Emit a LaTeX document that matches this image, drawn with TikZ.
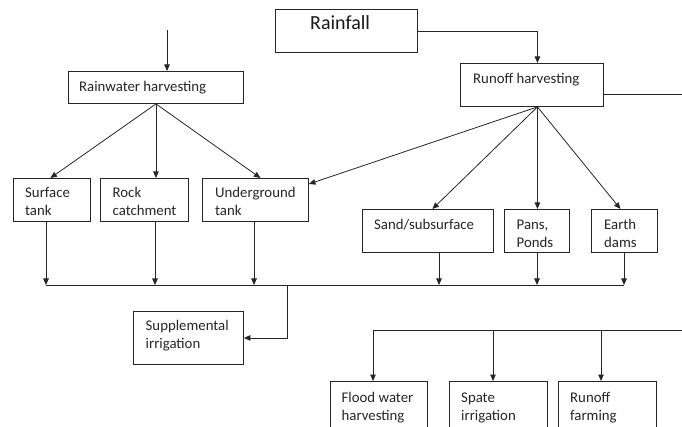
\documentclass[tikz,border=0pt]{standalone}
\usepackage{fontspec}
\setmainfont{Carlito}
\usetikzlibrary{arrows.meta,calc}
\begin{document}
\begin{tikzpicture}[x=1pt,y=-1pt,
  box/.style={draw=black!85, line width=0.9pt, rectangle, inner sep=0pt, anchor=north west},
  lbl/.style={anchor=base west, inner sep=0pt, font=\fontsize{14.8}{18}\selectfont, text=black!85},
  big/.style={anchor=base west, inner sep=0pt, font=\fontsize{20}{24}\selectfont, text=black!90},
  arr/.style={draw=black!85, line width=0.8pt, -{Triangle[width=5.5pt,length=6.5pt]}},
  ln/.style={draw=black!85, line width=0.8pt}]
\useasboundingbox (0,0) rectangle (682,427);
\clip (0,0) rectangle (682,427);
% boxes
\node[box, minimum width=142pt, minimum height=43pt] (rf) at (275,9) {};
\node[box, minimum width=143pt, minimum height=43pt] (ro) at (460,63) {};
\node[box, minimum width=175pt, minimum height=32pt] (rw) at (68,71) {};
\node[box, minimum width=77pt, minimum height=43pt] (st) at (13,178) {};
\node[box, minimum width=88pt, minimum height=43pt] (rc) at (100,178) {};
\node[box, minimum width=106pt, minimum height=43pt] (ug) at (202,178) {};
\node[box, minimum width=131pt, minimum height=43pt] (sd) at (362,209) {};
\node[box, minimum width=65pt, minimum height=43pt] (pp) at (504,209) {};
\node[box, minimum width=66pt, minimum height=43pt] (ed) at (591,209) {};
\node[box, minimum width=110pt, minimum height=53pt] (si) at (133,311) {};
\node[box, minimum width=97pt, minimum height=60pt] (fw) at (330,381) {};
\node[box, minimum width=98pt, minimum height=60pt] (sp) at (449,381) {};
\node[box, minimum width=98pt, minimum height=60pt] (rfm) at (558,381) {};
% texts
\node[big] (t1) at (310,29.5) {Rainfall};
\node[lbl] (t2) at (473,84) {Runoff harvesting};
\node[lbl] (t3) at (79,91.5) {Rainwater harvesting};
\node[lbl] (t4a) at (25,197.5) {Surface};
\node[lbl] (t4b) at (25,215.5) {tank};
\node[lbl] (t5a) at (112.5,197.5) {Rock};
\node[lbl] (t5b) at (112.5,215.5) {catchment};
\node[lbl] (t6a) at (215,197.5) {Underground};
\node[lbl] (t6b) at (215,215.5) {tank};
\node[lbl] (t7) at (374,229.3) {Sand/subsurface};
\node[lbl] (t8a) at (516.5,229.5) {Pans,};
\node[lbl] (t8b) at (516.5,248) {Ponds};
\node[lbl] (t9a) at (604,229.5) {Earth};
\node[lbl] (t9b) at (604,248) {dams};
\node[lbl] (t10a) at (145.5,330.5) {Supplemental};
\node[lbl] (t10b) at (145.5,348.5) {irrigation};
\node[lbl] (t11a) at (341.5,402) {Flood water};
\node[lbl] (t11b) at (341.5,420) {harvesting};
\node[lbl] (t12a) at (461,402) {Spate};
\node[lbl] (t12b) at (461,420) {irrigation};
\node[lbl] (t13a) at (570,402) {Runoff};
\node[lbl] (t13b) at (570,420) {farming};
% coordinates
\coordinate (in) at (167,30);
\coordinate (out1) at (682,94);
\coordinate (roA) at ($(ro.south)+(5.5,0)$);
\coordinate (b1) at (46,285);
\coordinate (b2) at (155,285);
\coordinate (b3) at (254,285);
\coordinate (b4) at (439,285);
\coordinate (b5) at (537,285);
\coordinate (b6) at (624,285);
\coordinate (bj) at (287,285);
\coordinate (out2) at (682,330);
\coordinate (d1) at (373,330);
\coordinate (d2) at (493,330);
\coordinate (d3) at (601,330);
% connectors
\draw[arr] (in) -- (in |- rw.north);
\draw[arr] (rf.east) -| ($(ro.north)+(5.5,0)$);
\draw[ln] (ro.east |- out1) -- (out1);
\draw[arr] (rw.south) -- ($(st.north)+(-1.5,0)$);
\draw[arr] (rw.south) -- (rw.south |- rc.north);
\draw[arr] (rw.south) -- ($(ug.north)+(5,0)$);
\draw[arr] (roA) -- ($(ug.north east)+(0,6)$);
\draw[arr] (roA) -- ($(sd.north)+(4.5,0)$);
\draw[arr] (roA) -- (roA |- pp.north);
\draw[arr] (roA) -- ($(ed.north)+(-4,0)$);
\draw[arr] (st.south -| b1) -- (b1);
\draw[arr] (rc.south -| b2) -- (b2);
\draw[arr] (ug.south -| b3) -- (b3);
\draw[arr] (sd.south -| b4) -- (b4);
\draw[arr] (pp.south -| b5) -- (b5);
\draw[arr] (ed.south -| b6) -- (b6);
\draw[ln] (b1) -- (b6);
\draw[arr] (bj) |- (si.east);
\draw[ln] (out2) -- (d1);
\draw[arr] (d1) -- (d1 |- fw.north);
\draw[arr] (d2) -- (d2 |- sp.north);
\draw[arr] (d3) -- (d3 |- rfm.north);
\end{tikzpicture}
\end{document}
